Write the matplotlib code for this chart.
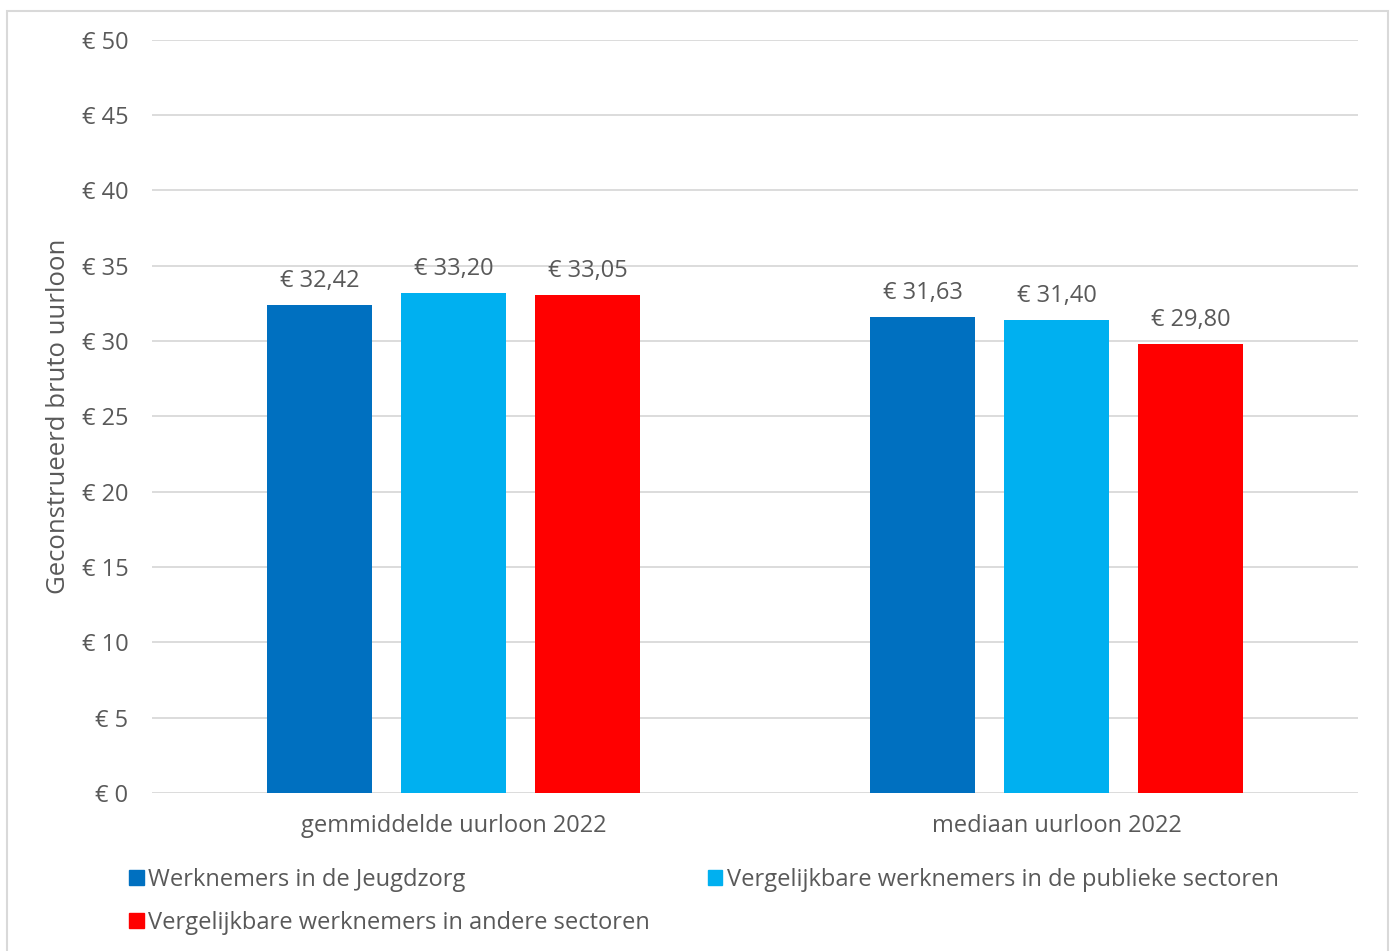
import matplotlib
matplotlib.use("Agg")
import matplotlib.pyplot as plt
from matplotlib.patches import Rectangle, Patch
import numpy as np

plt.rcParams['font.family'] = ['Open Sans', 'DejaVu Sans']

# data
categorieen = ['gemmiddelde uurloon 2022', 'mediaan uurloon 2022']
reeksen = ['Werknemers in de Jeugdzorg',
           'Vergelijkbare werknemers in de publieke sectoren',
           'Vergelijkbare werknemers in andere sectoren']
jeugdzorg = [32.42, 31.63]
publiek = [33.20, 31.40]
anders = [33.05, 29.80]
kleuren = ['#0070c0', '#00b0f0', '#ff0000']
yticks = [0, 5, 10, 15, 20, 25, 30, 35, 40, 45, 50]

grijs = '#595959'
fs = 17

fig = plt.figure(figsize=(13.95, 9.51), dpi=100)
ax = fig.add_axes([0.109, 0.1661, 0.8645, 0.792])

x = np.arange(len(categorieen))
breedte = 0.174
stap = 0.222
handles = []
for i, (waarden, kleur) in enumerate(zip([jeugdzorg, publiek, anders], kleuren)):
    balken = ax.bar(x + (i - 1) * stap, waarden, width=breedte, color=kleur, zorder=3)
    for b, v in zip(balken, waarden):
        ax.text(b.get_x() + b.get_width() / 2, v + 0.8,
                '€ ' + f'{v:.2f}'.replace('.', ','),
                ha='center', va='bottom', fontsize=fs, color=grijs)
    handles.append(Patch(color=kleur, label=reeksen[i]))

ax.set_xlim(-0.5, 1.5)
ax.set_ylim(0, 50)
ax.set_yticks(yticks)
ax.set_yticklabels(['€ %d' % t for t in yticks])
ax.set_xticks(x)
ax.set_xticklabels(categorieen)
ax.grid(axis='y', color='#d9d9d9', linewidth=1.3, zorder=0)
ax.tick_params(axis='both', length=0, labelsize=fs, labelcolor=grijs)
ax.tick_params(axis='y', pad=17)
ax.tick_params(axis='x', pad=15)
for s in ax.spines.values():
    s.set_visible(False)
ax.set_ylabel('Geconstrueerd bruto uurloon', fontsize=18.5, color=grijs, labelpad=8)

fig.legend(handles=[handles[0], handles[2], handles[1]],
           labels=[reeksen[0], reeksen[2], reeksen[1]],
           loc='upper left', bbox_to_anchor=(0.086, 0.097), ncol=2,
           frameon=False, fontsize=fs, labelcolor=grijs,
           handlelength=0.6, handleheight=0.6, handletextpad=0.2,
           columnspacing=2.45, labelspacing=0.8, borderaxespad=0)

fig.patches.append(Rectangle((7 / 1395, -0.01), 1381 / 1395, 1 - 11 / 951 + 0.01,
                             transform=fig.transFigure, fill=False,
                             edgecolor='#d9d9d9', linewidth=1.5))

fig.savefig('out.png', dpi=100)
